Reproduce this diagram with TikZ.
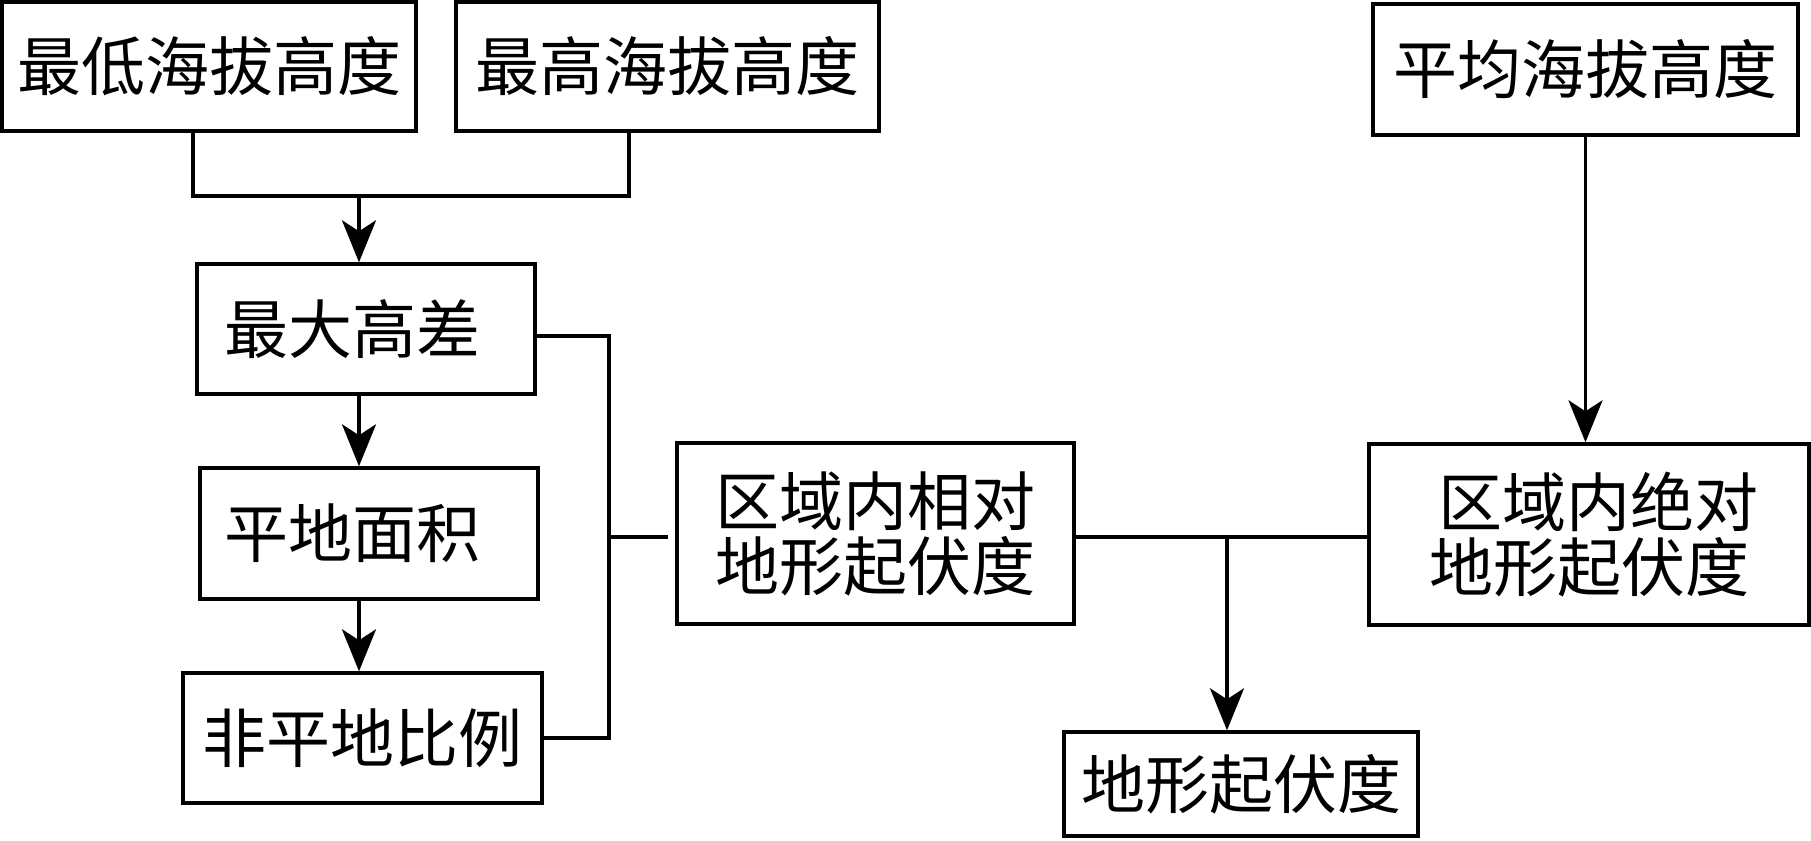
\documentclass[tikz,border=0pt]{standalone}
\usepackage{fontspec}
\newfontfamily\cjk{Noto Sans CJK SC}
\usetikzlibrary{arrows.meta}
\begin{document}
\begin{tikzpicture}[x=1pt,y=-1pt,
  box/.style={draw,line width=3.4pt,inner sep=0pt,align=center,
    font=\cjk\fontsize{64}{65}\selectfont},
  conn/.style={line width=3.4pt},
  arr/.style={line width=3.4pt,-{Stealth[length=42pt,width=34pt,inset=11pt]}}]
\useasboundingbox (0,0) rectangle (1811,840);
\fill[white] (0,0) rectangle (1811,840);
% boxes
\node[box,minimum width=414pt,minimum height=129pt] (b1) at (209,66.5) {最低海拔高度};
\node[box,minimum width=423pt,minimum height=129pt] (b2) at (667.5,66.5) {最高海拔高度};
\node[box,minimum width=338pt,minimum height=130pt] (b3) at (366,329) {\hspace*{-28pt}最大高差};
\node[box,minimum width=338pt,minimum height=131pt] (b4) at (369,533.5) {\hspace*{-34pt}平地面积};
\node[box,minimum width=359pt,minimum height=130pt] (b5) at (362.5,738) {非平地比例};
\node[box,minimum width=397pt,minimum height=181pt] (b6) at (875.5,533.5) {区域内相对\\地形起伏度};
\node[box,minimum width=440pt,minimum height=181pt] (b7) at (1589,534.5) {\hspace*{18pt}区域内绝对\\地形起伏度};
\node[box,minimum width=354pt,minimum height=104pt] (b8) at (1241,784) {地形起伏度};
\node[box,minimum width=425pt,minimum height=131pt] (b9) at (1585.5,69.5) {平均海拔高度};
% junction coordinates
\coordinate (j1) at (193,196);
\coordinate (j2) at (629,196);
\coordinate (j3) at (359,196);
\coordinate (r1) at (609,336);
\coordinate (r2) at (609,738);
\coordinate (r3) at (609,537);
\coordinate (r4) at (668,537);
\coordinate (m) at (1227,537);
% connectors
\draw[conn] (j1|-b1.south) -- (j1) -- (j2) -- (j2|-b2.south);
\draw[arr] (j3) -- (j3|-b3.north);
\draw[arr] (j3|-b3.south) -- (j3|-b4.north);
\draw[arr] (j3|-b4.south) -- (j3|-b5.north);
\draw[conn] (b3.east|-r1) -- (r1) -- (r2) -- (b5.east|-r2);
\draw[conn] (r3) -- (r4);
\draw[conn] (b6.east|-m) -- (b7.west|-m);
\draw[arr] (m) -- (m|-b8.north);
\draw[arr] (b9.south) -- (b9.south|-b7.north);
\end{tikzpicture}
\end{document}
